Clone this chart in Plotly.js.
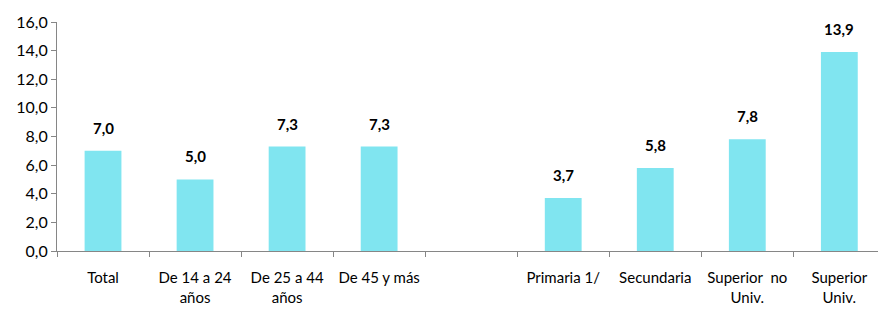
<!DOCTYPE html>
<html><head><meta charset="utf-8">
<script src="https://cdn.plot.ly/plotly-3.0.1.min.js"></script>
<style>html,body{margin:0;padding:0;background:#fff}#c{width:878px;height:309px}</style>
</head><body><div id="c"></div>
<script>
const categories = ["Total","De 14 a 24<br>años","De 25 a 44<br>años","De 45 y más"," ","Primaria 1/","Secundaria","Superior  no<br>Univ.","Superior<br>Univ."];
const values = [7.0,5.0,7.3,7.3,null,3.7,5.8,7.8,13.9];
const labels = ["7,0","5,0","7,3","7,3","","3,7","5,8","7,8","13,9"];
const yTicks = [0,2,4,6,8,10,12,14,16];
const yTickText = ["0,0","2,0","4,0","6,0","8,0","10,0","12,0","14,0","16,0"];

const font = "Lato, 'Open Sans', sans-serif";
const annotations = [];
categories.forEach((c,i)=>{
  if(values[i]!==null){
    annotations.push({x:c,y:values[i],text:"<b>"+labels[i]+"</b>",showarrow:false,yanchor:"bottom",yshift:12,font:{family:font,size:15,color:"#000"}});
  }
});
Plotly.newPlot("c",[{type:"bar",x:categories,y:values,width:0.4,marker:{color:"#80E5F0"},hoverinfo:"none"}],{
  width:878,height:309,margin:{l:57,r:0,t:22,b:58},
  paper_bgcolor:"#fff",plot_bgcolor:"#fff",showlegend:false,
  xaxis:{type:"category",range:[-0.5,8.42],showline:true,linecolor:"#868686",linewidth:1,ticks:"outside",tickson:"boundaries",ticklen:5,tickcolor:"#868686",ticklabelstandoff:13,tickfont:{family:font,size:15,color:"#000"},showgrid:false,zeroline:false,fixedrange:true},
  yaxis:{range:[0,16],tickvals:yTicks,ticktext:yTickText,showline:true,linecolor:"#868686",linewidth:1,ticks:"outside",ticklen:5,tickcolor:"#868686",tickfont:{family:font,size:16,color:"#000"},showgrid:false,zeroline:false,fixedrange:true},
  annotations:annotations
},{displayModeBar:false,staticPlot:true});
</script></body></html>
